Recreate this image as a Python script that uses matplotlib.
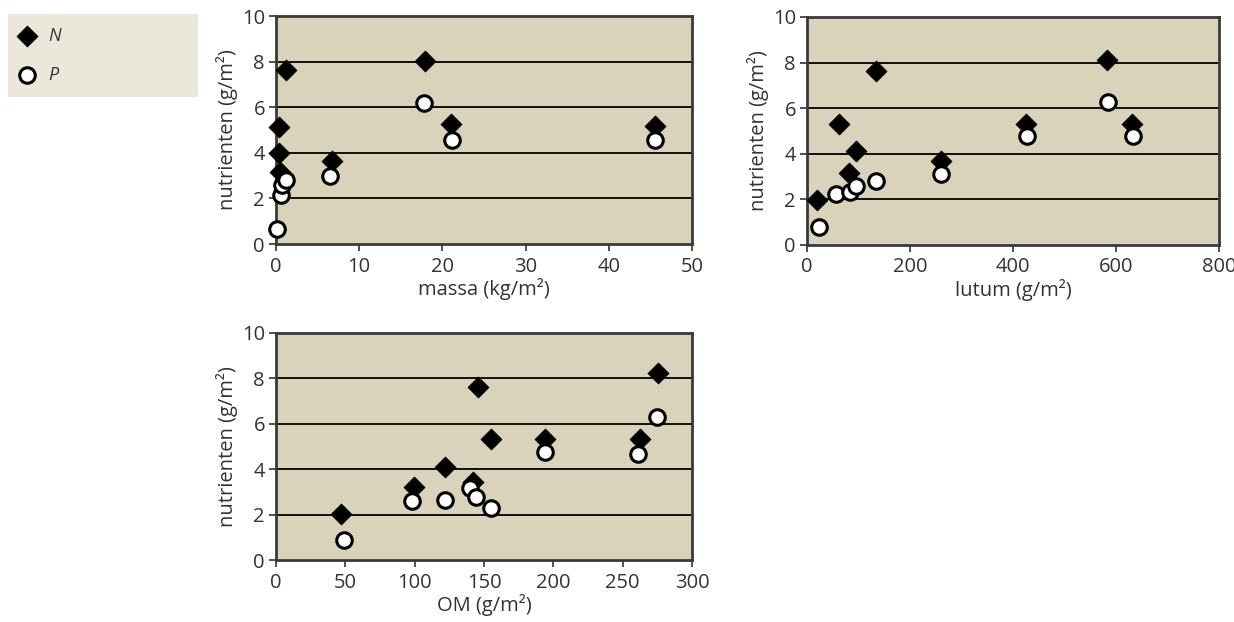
import matplotlib
matplotlib.use("Agg")
import matplotlib.pyplot as plt

plt.rcParams['font.family'] = ['Open Sans', 'DejaVu Sans']

# Panel 1: massa (kg/m2)
massa_N_x = [1.2, 0.4, 0.4, 0.5, 6.7, 17.9, 21.0, 45.6]
massa_N_y = [7.63, 5.15, 4.01, 3.14, 3.63, 8.04, 5.26, 5.18]
massa_P_x = [0.1, 0.55, 0.7, 1.2, 6.5, 17.8, 21.1, 45.6]
massa_P_y = [0.66, 2.13, 2.6, 2.8, 3.0, 6.17, 4.57, 4.57]

# Panel 2: lutum (g/m2)
lutum_N_x = [19.4, 61.4, 80.8, 95.6, 133.8, 260.4, 425, 583, 632]
lutum_N_y = [1.98, 5.29, 3.15, 4.14, 7.61, 3.69, 5.3, 8.13, 5.3]
lutum_P_x = [23.3, 56.9, 82.7, 95.6, 133.8, 260.4, 426.5, 583.6, 633]
lutum_P_y = [0.81, 2.23, 2.34, 2.59, 2.81, 3.13, 4.79, 6.28, 4.80]

# Panel 3: OM (g/m2)
om_N_x = [47, 99.8, 121.7, 142.2, 145.8, 155.4, 194, 262.2, 275.2]
om_N_y = [2.02, 3.23, 4.08, 3.45, 7.6, 5.31, 5.31, 5.31, 8.24]
om_P_x = [48.7, 98.3, 121.7, 139.8, 144.1, 155.4, 194, 261.4, 274.7]
om_P_y = [0.88, 2.62, 2.65, 3.17, 2.76, 2.31, 4.77, 4.69, 6.29]

ylabel = "nutrienten (g/m²)"
series_labels = ["N", "P"]

BG = "#d9d3bc"
LEG_BG = "#ebe7da"
TXT = "#333333"
FS = 14.5

fig = plt.figure(figsize=(12.34, 6.22), dpi=100)

N_STYLE = dict(marker="D", s=115, c="black", edgecolors="black", linewidths=0.5)
P_STYLE = dict(marker="o", s=125, c="white", edgecolors="black", linewidths=2.2)

def panel(rect, nx, ny, px, py, xmax, xticks, xlabel):
    ax = fig.add_axes(rect)
    ax.set_facecolor(BG)
    ax.set_xlim(0, xmax)
    ax.set_ylim(0, 10)
    ax.set_xticks(xticks)
    ax.set_yticks([0, 2, 4, 6, 8, 10])
    for y in [2, 4, 6, 8]:
        ax.axhline(y, color="black", lw=1.3, zorder=1)
    for s in ax.spines.values():
        s.set_color("#3a3a3a")
        s.set_linewidth(2)
    ax.tick_params(direction="out", length=5, width=1.2, color="#333333",
                   labelsize=FS, labelcolor=TXT)
    ax.tick_params(axis="x", pad=4)
    ax.tick_params(axis="y", pad=3)
    ax.scatter(nx, ny, zorder=3, label=series_labels[0], clip_on=False, **N_STYLE)
    ax.scatter(px, py, zorder=4, label=series_labels[1], clip_on=False, **P_STYLE)
    ax.set_xlabel(xlabel, fontsize=FS, color=TXT, labelpad=1)
    ax.set_ylabel(ylabel, fontsize=FS, color=TXT, labelpad=3)
    return ax

ax1 = panel([276/1234, (622-244)/622, 416/1234, 228/622],
            massa_N_x, massa_N_y, massa_P_x, massa_P_y, 50,
            [0, 10, 20, 30, 40, 50], "massa (kg/m²)")
ax2 = panel([807/1234, (622-245)/622, 412/1234, 228/622],
            lutum_N_x, lutum_N_y, lutum_P_x, lutum_P_y, 800,
            [0, 200, 400, 600, 800], "lutum (g/m²)")
ax3 = panel([276/1234, (622-560)/622, 416/1234, 227/622],
            om_N_x, om_N_y, om_P_x, om_P_y, 300,
            [0, 50, 100, 150, 200, 250, 300], "OM (g/m²)")

# Legend box (pixel-like coordinates inside the box, y downward)
lax = fig.add_axes([8/1234, (622-97)/622, 190/1234, 83/622])
lax.set_facecolor(LEG_BG)
lax.set_xlim(0, 190)
lax.set_ylim(83, 0)
lax.set_xticks([]); lax.set_yticks([])
for s in lax.spines.values():
    s.set_visible(False)
lax.scatter([19], [22], **N_STYLE)
lax.scatter([19], [61], **P_STYLE)
lax.text(40, 22, series_labels[0], fontsize=13, style="italic", color=TXT, va="center")
lax.text(40, 61, series_labels[1], fontsize=13, style="italic", color=TXT, va="center")

fig.savefig("out.png", dpi=100)
